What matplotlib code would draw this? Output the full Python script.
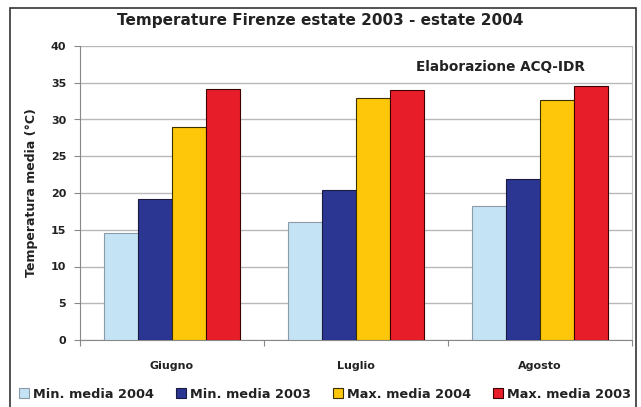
import matplotlib
matplotlib.use("Agg")
import matplotlib.pyplot as plt
import numpy as np
from matplotlib.patches import Rectangle

months = ["Giugno", "Luglio", "Agosto"]
series_names = ["Min. media 2004", "Min. media 2003", "Max. media 2004", "Max. media 2003"]
min_2004 = [14.5, 16.0, 18.2]
min_2003 = [19.2, 20.4, 21.9]
max_2004 = [29.0, 32.9, 32.7]
max_2003 = [34.2, 34.0, 34.5]
yticks = [0, 5, 10, 15, 20, 25, 30, 35, 40]

series = [min_2004, min_2003, max_2004, max_2003]
colors = ["#C4E4F6", "#2B3592", "#FFC70A", "#E81D2A"]
edges = ["#8A9AA6", "#1a1a40", "#3a3000", "#3a0000"]

fig = plt.figure(figsize=(6.41, 4.07), dpi=100)
fig.patches.append(Rectangle((10/641, -0.1), (636-10)/641, 1.1 - 8/407, transform=fig.transFigure,
                             fill=False, edgecolor="#333333", linewidth=1.2))
ax = fig.add_axes([80/641, (407-340)/407, (632-80)/641, (340-46)/407])

x = np.arange(len(months))
w = 0.184
for i, (vals, c, ec, name) in enumerate(zip(series, colors, edges, series_names)):
    ax.bar(x + (i - 1.5) * w, vals, width=w, color=c, edgecolor=ec, linewidth=0.8,
           label=name, zorder=3)

ax.set_xlim(-0.5, 2.5)
ax.set_ylim(0, 40)
ax.set_yticks(yticks)
ax.set_yticklabels([str(t) for t in yticks], fontsize=8, fontweight="bold", color="#222222")
ax.set_xticks([-0.5, 0.5, 1.5, 2.5], minor=False)
ax.set_xticklabels([])
ax.tick_params(axis="x", length=4, color="#888888", direction="out")
ax.tick_params(axis="y", length=4, color="#888888", direction="out", pad=6)
for m, xm in zip(months, x):
    ax.text(xm, -3.6, m, ha="center", va="center", fontsize=8, fontweight="bold", color="#222222")
ax.grid(axis="y", color="#b8b8b8", linewidth=1.0, zorder=0)
ax.spines["top"].set_visible(False)
ax.spines["right"].set_color("#c0c0c0")
ax.spines["left"].set_color("#888888")
ax.spines["bottom"].set_color("#888888")

ax.set_ylabel("Temperatura media (°C)", fontsize=9, fontweight="bold", labelpad=9, color="#222222")
ax.text(0.915, 0.93, "Elaborazione ACQ-IDR", transform=ax.transAxes, ha="right", va="center",
        fontsize=9.8, fontweight="bold", color="#222222")

fig.text(0.5, (407-21)/407, "Temperature Firenze estate 2003 - estate 2004", ha="center", va="center",
         fontsize=11, fontweight="bold", color="#222222")

leg = fig.legend(loc="center", bbox_to_anchor=(325/641, (407-394)/407), ncol=4, frameon=False,
                 handlelength=0.8, handleheight=0.8, handletextpad=0.3,
                 columnspacing=1.7, prop={"weight": "bold", "size": 9.3})
for t in leg.get_texts():
    t.set_color("#222222")

fig.savefig("out.png", dpi=100)
